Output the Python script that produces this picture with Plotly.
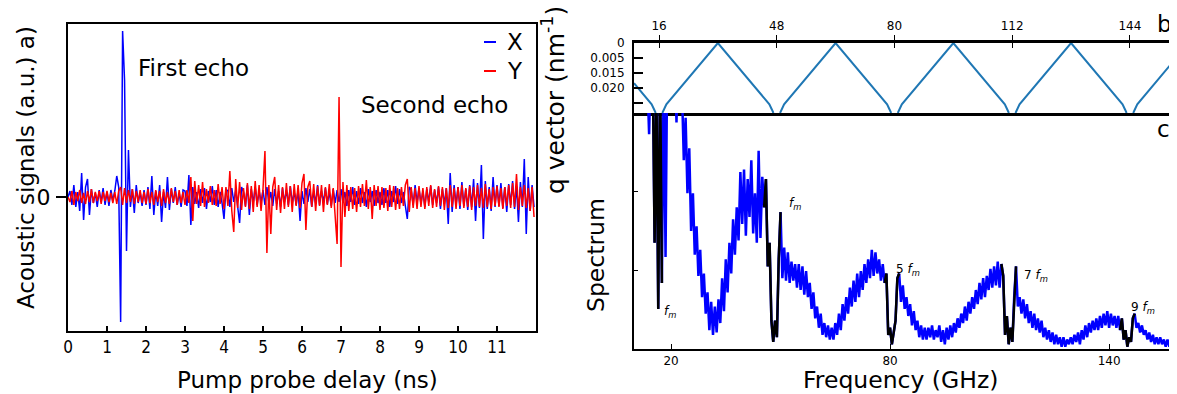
import numpy as np
import plotly.graph_objects as go

W, H = 1177, 394
OFF = 8  # page body margin of the exported html


def px(x):
    return (x - OFF) / W


def py(y):
    return 1 - (y - OFF) / H


# ---------------- panel a) acoustic echoes (sampled every 0.05 ns) ----------------
signal_x = [
    0.00, 0.06, -0.08, 0.12, -0.10, 0.05, -0.14, 0.24, -0.23, 0.10, 0.18, -0.18, 0.08, -0.06, 0.04, -0.10, 0.07, -0.05, 0.09, -0.08,
    0.05, -0.09, 0.07, -0.04, 0.06, 0.21, 0.10, -1.25, 1.66, 1.17, -0.54, 0.47, -0.10, 0.08, -0.16, 0.12, -0.06, 0.05, -0.09, 0.07,
    -0.08, 0.10, -0.12, 0.21, -0.18, 0.06, -0.09, 0.12, -0.25, 0.05, -0.11, 0.20, -0.13, 0.08, -0.06, 0.10, -0.08, 0.04, -0.10, 0.07,
    0.06, -0.09, 0.22, -0.28, 0.10, -0.07, 0.05, -0.11, 0.08, -0.06, 0.09, -0.12, 0.06, -0.05, 0.11, -0.08, 0.07, -0.10, 0.05, -0.06,
    -0.22, 0.08, 0.06, -0.10, 0.09, -0.05, 0.07, -0.12, -0.26, 0.10, 0.05, -0.09, 0.12, -0.18, 0.08, -0.06, 0.10, -0.08, 0.06, -0.05,
    0.07, -0.08, 0.10, -0.06, 0.05, -0.09, 0.08, -0.07, 0.06, -0.10, 0.09, -0.05, 0.07, -0.08, 0.11, -0.06, 0.05, -0.08, 0.07, -0.24,
    0.06, -0.07, 0.09, -0.05, 0.08, -0.10, 0.05, -0.06, 0.12, -0.08, 0.06, -0.05, 0.09, -0.07, 0.05, -0.09, 0.08, -0.06, 0.07, -0.05,
    0.08, -0.06, 0.05, -0.09, 0.07, -0.05, 0.10, -0.08, 0.06, -0.07, 0.09, -0.06, 0.05, -0.10, 0.08, -0.05, 0.06, -0.09, 0.07, -0.06,
    0.05, -0.08, 0.09, -0.06, 0.07, -0.10, 0.06, -0.05, 0.11, -0.07, 0.08, -0.06, 0.05, -0.09, -0.22, 0.10, 0.07, -0.08, 0.12, -0.06,
    0.09, -0.07, 0.06, -0.10, 0.08, -0.05, 0.11, -0.08, 0.07, -0.06, 0.10, -0.12, 0.08, -0.07, 0.09, -0.27, 0.24, -0.15, 0.12, -0.08,
    0.10, -0.12, 0.15, -0.09, 0.08, -0.13, 0.12, -0.10, 0.18, -0.24, 0.14, -0.11, 0.32, -0.42, 0.16, -0.12, 0.10, -0.14, 0.20, -0.10,
    0.12, -0.09, 0.14, -0.11, 0.10, -0.15, 0.13, -0.08, 0.16, -0.12, 0.11, -0.25, 0.15, -0.10, 0.38, -0.37, 0.20, -0.14, 0.12, -0.10,
]

signal_y = [
    0.00, -0.05, 0.06, -0.08, 0.05, -0.04, 0.07, -0.06, 0.04, -0.07, 0.06, -0.05, 0.08, -0.06, 0.05, -0.04, 0.06, -0.07, 0.05, -0.04,
    0.06, -0.05, 0.04, -0.06, 0.05, -0.07, 0.06, 0.10, -0.08, 0.09, -0.06, 0.07, -0.05, 0.08, -0.07, 0.06, -0.05, 0.07, -0.06, 0.05,
    -0.07, 0.08, -0.06, 0.05, -0.08, 0.07, -0.05, 0.06, -0.09, 0.08, -0.06, 0.05, -0.07, 0.09, -0.05, 0.06, -0.08, 0.07, -0.06, 0.05,
    -0.08, 0.07, -0.06, 0.20, -0.24, 0.16, -0.07, 0.12, -0.09, 0.15, -0.10, 0.08, -0.06, 0.11, -0.08, 0.07, -0.09, 0.13, -0.07, 0.10,
    -0.12, 0.10, -0.09, 0.26, -0.14, -0.35, 0.18, -0.11, 0.15, -0.13, 0.09, -0.10, 0.14, -0.12, 0.11, -0.15, 0.16, -0.10, 0.12, -0.14,
    0.08, 0.46, -0.56, 0.12, -0.37, 0.10, 0.20, -0.13, 0.12, -0.16, 0.10, -0.12, 0.14, -0.10, 0.11, -0.15, 0.13, -0.09, 0.12, -0.11,
    0.14, 0.23, -0.33, 0.10, 0.16, -0.10, 0.13, -0.14, 0.11, -0.09, 0.12, -0.15, 0.10, -0.08, 0.13, -0.11, 0.09, -0.15, -0.47, 1.00,
    -0.70, 0.15, -0.20, 0.12, -0.14, 0.10, -0.12, 0.09, -0.15, 0.11, -0.10, 0.13, -0.09, 0.17, -0.12, 0.10, -0.22, 0.12, -0.09, 0.11,
    -0.13, 0.10, -0.11, 0.09, -0.14, 0.12, -0.10, 0.11, -0.13, 0.09, -0.12, 0.10, -0.09, 0.12, 0.18, -0.15, 0.10, -0.11, 0.09, -0.12,
    0.11, -0.10, 0.09, -0.12, 0.10, -0.09, 0.12, -0.11, 0.08, -0.10, 0.11, -0.09, 0.10, -0.13, 0.09, -0.11, 0.12, -0.10, 0.09, -0.12,
    0.10, -0.09, 0.12, -0.11, 0.09, -0.10, 0.11, -0.13, 0.10, -0.09, 0.12, -0.10, 0.09, -0.11, 0.13, -0.10, 0.08, -0.12, 0.10, -0.09,
    0.11, -0.10, 0.09, -0.12, 0.10, -0.09, 0.12, -0.11, 0.14, -0.10, 0.23, -0.13, 0.10, -0.09, 0.12, -0.11, 0.09, -0.14, 0.10, -0.20,
]
delay_step_ns = 0.05
delay_ticks = list(range(0, 13))
delay_ticktext = [str(v) for v in range(0, 12)] + [""]

# ---------------- panel b) folded dispersion (q vector vs frequency) ----------------
disp_freq = [9.2, 14.0, 14.7, 15.1, None, 16.9, 17.3, 18.0, 32.0, 46.0, 46.7, 47.1, None,
             48.9, 49.3, 50.0, 64.0, 78.0, 78.7, 79.1, None,
             80.9, 81.3, 82.0, 96.0, 110.0, 110.7, 111.1, None,
             112.9, 113.3, 114.0, 128.0, 142.0, 142.7, 143.1, None,
             144.9, 145.3, 146.0, 158.0]
disp_q = [0.0134, 0.0204, 0.0222, 0.0233, None, 0.0233, 0.0222, 0.0204, 0.0, 0.0204, 0.0222, 0.0233, None,
          0.0233, 0.0222, 0.0204, 0.0, 0.0204, 0.0222, 0.0233, None,
          0.0233, 0.0222, 0.0204, 0.0, 0.0204, 0.0222, 0.0233, None,
          0.0233, 0.0222, 0.0204, 0.0, 0.0204, 0.0222, 0.0233, None,
          0.0233, 0.0222, 0.0204, 0.0029]
q_tickvals = [0, 0.005, 0.010, 0.015, 0.020]
q_ticktext = ["0", "0.005", "0.015", "0.020", ""]
top_freq_ticks = [16, 48, 80, 112, 144]

# ---------------- panel c) spectrum (sampled every 0.5 GHz from 10 GHz) ----------------
spectrum = [
    1.30, 1.40, 1.25, 1.35, 1.20, 1.40, 1.30, 1.15, 0.91, 1.25,
    1.20, 0.45, 1.10, 0.17, 1.20, 0.28, 1.20, 0.39, 1.30, 1.40,
    1.30, 1.35, 1.25, 0.96, 1.30, 1.20, 1.10, 0.80, 0.98, 0.66,
    0.85, 0.50, 0.66, 0.40, 0.52, 0.31, 0.42, 0.22, 0.32, 0.15,
    0.24, 0.08, 0.20, 0.06, 0.18, 0.07, 0.21, 0.11, 0.30, 0.16,
    0.38, 0.24, 0.45, 0.32, 0.55, 0.40, 0.60, 0.46, 0.75, 0.53,
    0.76, 0.48, 0.72, 0.56, 0.80, 0.49, 0.66, 0.45, 0.84, 0.47,
    0.73, 0.60, 0.72, 0.35, 0.45, 0.12, 0.03, 0.12, 0.05, 0.38,
    0.58, 0.30, 0.43, 0.29, 0.41, 0.28, 0.37, 0.29, 0.36, 0.26,
    0.36, 0.25, 0.35, 0.23, 0.33, 0.22, 0.28, 0.17, 0.24, 0.13,
    0.18, 0.09, 0.15, 0.06, 0.11, 0.05, 0.10, 0.04, 0.09, 0.04,
    0.11, 0.06, 0.15, 0.08, 0.19, 0.12, 0.22, 0.15, 0.26, 0.18,
    0.29, 0.20, 0.32, 0.22, 0.33, 0.25, 0.36, 0.28, 0.38, 0.30,
    0.42, 0.31, 0.41, 0.32, 0.38, 0.29, 0.36, 0.28, 0.32, 0.06,
    0.09, 0.02, 0.08, 0.12, 0.30, 0.32, 0.20, 0.27, 0.17, 0.22,
    0.14, 0.19, 0.10, 0.16, 0.08, 0.12, 0.05, 0.10, 0.04, 0.09,
    0.04, 0.09, 0.05, 0.10, 0.04, 0.08, 0.05, 0.10, 0.03, 0.08,
    0.02, 0.09, 0.04, 0.10, 0.05, 0.11, 0.07, 0.13, 0.09, 0.15,
    0.11, 0.18, 0.12, 0.20, 0.15, 0.22, 0.17, 0.25, 0.19, 0.28,
    0.21, 0.30, 0.22, 0.31, 0.25, 0.34, 0.26, 0.35, 0.27, 0.37,
    0.26, 0.36, 0.31, 0.06, 0.14, 0.02, 0.09, 0.03, 0.22, 0.35,
    0.18, 0.22, 0.15, 0.21, 0.13, 0.19, 0.11, 0.16, 0.09, 0.15,
    0.08, 0.13, 0.07, 0.12, 0.05, 0.09, 0.04, 0.08, 0.03, 0.07,
    0.02, 0.06, 0.02, 0.05, 0.01, 0.05, 0.01, 0.04, 0.02, 0.05,
    0.02, 0.06, 0.03, 0.07, 0.02, 0.08, 0.04, 0.10, 0.05, 0.11,
    0.07, 0.12, 0.08, 0.13, 0.08, 0.14, 0.09, 0.15, 0.10, 0.16,
    0.09, 0.15, 0.10, 0.14, 0.09, 0.14, 0.08, 0.13, 0.04, 0.08,
    0.01, 0.05, 0.03, 0.13, 0.15, 0.09, 0.11, 0.07, 0.10, 0.06,
    0.08, 0.04, 0.07, 0.03, 0.06, 0.02, 0.05, 0.02, 0.05, 0.02,
    0.04, 0.01, 0.04, 0.01, 0.03, 0.00, 0.03,
]
spec_start_ghz = 10.0
spec_step_ghz = 0.5
# minigap bands drawn in black
gap_bands = [(15.0, 17.75), (45.5, 50.0), (78.5, 82.5), (110.5, 114.5), (143.0, 147.0)]
gap_labels = ["<i>f</i><sub><i>m</i></sub>", "<i>f</i><sub><i>m</i></sub>",
              "5 <i>f</i><sub><i>m</i></sub>", "7 <i>f</i><sub><i>m</i></sub>", "9 <i>f</i><sub><i>m</i></sub>"]
gap_label_f = [19.7, 54.0, 84.9, 120.0, 149.3]
gap_label_v = [0.157, 0.614, 0.335, 0.309, 0.174]
bottom_freq_ticks = [20, 80, 140]

# ---------------- build ----------------
delay_ns = np.round(np.arange(len(signal_x)) * delay_step_ns, 3)
freq_ghz = np.round(spec_start_ghz + np.arange(len(spectrum)) * spec_step_ghz, 2)
spec_arr = np.array(spectrum)

bx, by = [], []
for lo, hi in gap_bands:
    m = (freq_ghz >= lo - 1e-9) & (freq_ghz <= hi + 1e-9)
    bx += list(freq_ghz[m]) + [None]
    by += list(spec_arr[m]) + [None]

FONT = "DejaVu Sans"
NARROW = "DejaVu Sans Condensed, Liberation Sans Narrow, DejaVu Sans"

fig = go.Figure()
fig.add_trace(go.Scatter(x=delay_ns, y=signal_x, mode="lines", name="X",
                         line=dict(color="#0000ff", width=1.5), xaxis="x", yaxis="y"))
fig.add_trace(go.Scatter(x=delay_ns, y=signal_y, mode="lines", name="Y",
                         line=dict(color="#ff0000", width=1.5), xaxis="x", yaxis="y"))
fig.add_trace(go.Scatter(x=disp_freq, y=disp_q, mode="lines", connectgaps=False,
                         line=dict(color="#1f77b4", width=2), xaxis="x2", yaxis="y2"))
fig.add_trace(go.Scatter(x=[None], y=[None], mode="lines", xaxis="x4", yaxis="y2"))
fig.add_trace(go.Scatter(x=freq_ghz, y=spectrum, mode="lines",
                         line=dict(color="#0000ff", width=2.5), xaxis="x3", yaxis="y3"))
fig.add_trace(go.Scatter(x=bx, y=by, mode="lines", connectgaps=False,
                         line=dict(color="#000000", width=2.5), xaxis="x3", yaxis="y3"))

axis_common = dict(showgrid=False, zeroline=False, showline=True, linecolor="black",
                   tickcolor="black", automargin=False)

fig.update_layout(
    template="none",
    width=W, height=H,
    margin=dict(l=0, r=0, t=0, b=0, pad=0, autoexpand=False),
    paper_bgcolor="white", plot_bgcolor="white",
    showlegend=False,
    font=dict(family=FONT, color="black"),
    xaxis=dict(axis_common, domain=[px(68), px(536)], range=[0, 12], anchor="y",
               tickmode="array", tickvals=delay_ticks, ticktext=delay_ticktext,
               ticks="inside", ticklen=5, tickwidth=1.5, linewidth=2, mirror=True,
               tickfont=dict(family=NARROW, size=17), ticklabelstandoff=0),
    yaxis=dict(axis_common, domain=[py(331), py(24)], range=[-1.34, 1.73], anchor="x",
               tickmode="array", tickvals=[0], ticktext=["0"],
               ticks="outside", ticklen=10, tickwidth=1.5, linewidth=2, mirror=True,
               tickfont=dict(family=FONT, size=22), ticklabelstandoff=1),
    xaxis2=dict(axis_common, domain=[px(634), px(1177)], range=[9.2, 156.8], anchor="y2",
                side="top", tickmode="array", tickvals=top_freq_ticks,
                ticks="outside", ticklen=5, tickwidth=1.2, linewidth=2.5, mirror=True,
                tickfont=dict(family=FONT, size=12), ticklabelstandoff=0),
    xaxis4=dict(showgrid=False, zeroline=False, showline=False, overlaying="x2", anchor="y2",
                side="top", range=[9.2, 156.8], tickmode="array", tickvals=top_freq_ticks,
                ticks="inside", ticklen=5, tickwidth=1.2, tickcolor="black", showticklabels=False,
                automargin=False),
    yaxis2=dict(axis_common, domain=[py(113), py(43)], range=[0.0233, 0], anchor="x2",
                tickmode="array", tickvals=q_tickvals, ticktext=q_ticktext,
                ticks="inside", ticklen=9, tickwidth=1.5, linewidth=2,
                tickfont=dict(family=FONT, size=12), ticklabelstandoff=5),
    xaxis3=dict(axis_common, domain=[px(634), px(1177)], range=[9.86, 158.6], anchor="y3",
                tickmode="array", tickvals=bottom_freq_ticks,
                ticks="inside", ticklen=5, tickwidth=1.2, linewidth=2,
                tickfont=dict(family=FONT, size=12), ticklabelstandoff=0),
    yaxis3=dict(axis_common, domain=[py(349), py(113)], range=[0, 1], anchor="x3",
                tickmode="array", tickvals=[1 / 3, 2 / 3], showticklabels=False,
                ticks="inside", ticklen=4, tickwidth=1.2, linewidth=2),
)

ann = []


def text(x, y, t, size=23, angle=0, xanchor="center", yanchor="middle", family=FONT):
    ann.append(dict(x=px(x), y=py(y), xref="paper", yref="paper", text=t, showarrow=False,
                    textangle=angle, xanchor=xanchor, yanchor=yanchor,
                    font=dict(family=family, size=size, color="black")))


text(26, 168, "Acoustic signals (a.u.) a)", size=23, angle=-90)
text(193, 68, "First echo", size=23)
text(434, 105, "Second echo", size=23)
text(515, 42, "X", size=23)
text(515, 71, "Y", size=23)
text(307, 380, "Pump probe delay (ns)", size=23)
text(553, 100, "q vector (nm<sup>-1</sup>)", size=25, angle=-90)
text(596, 255, "Spectrum", size=23.5, angle=-90)
text(900, 380, "Frequency (GHz)", size=23.5)
text(1155, 24, "b)", size=23, xanchor="left")
text(1155, 129, "c)", size=23, xanchor="left")

for lab, f, v in zip(gap_labels, gap_label_f, gap_label_v):
    ann.append(dict(x=f, y=v, xref="x3", yref="y3", text=lab, showarrow=False,
                    font=dict(family=FONT, size=12, color="black")))

fig.update_layout(annotations=ann)

# legend swatches for panel a
fig.add_shape(type="line", xref="paper", yref="paper", x0=px(484), x1=px(496), y0=py(42), y1=py(42),
              line=dict(color="#0000ff", width=2))
fig.add_shape(type="line", xref="paper", yref="paper", x0=px(484), x1=px(496), y0=py(71), y1=py(71),
              line=dict(color="#ff0000", width=2))

fig.write_html("out.html")
